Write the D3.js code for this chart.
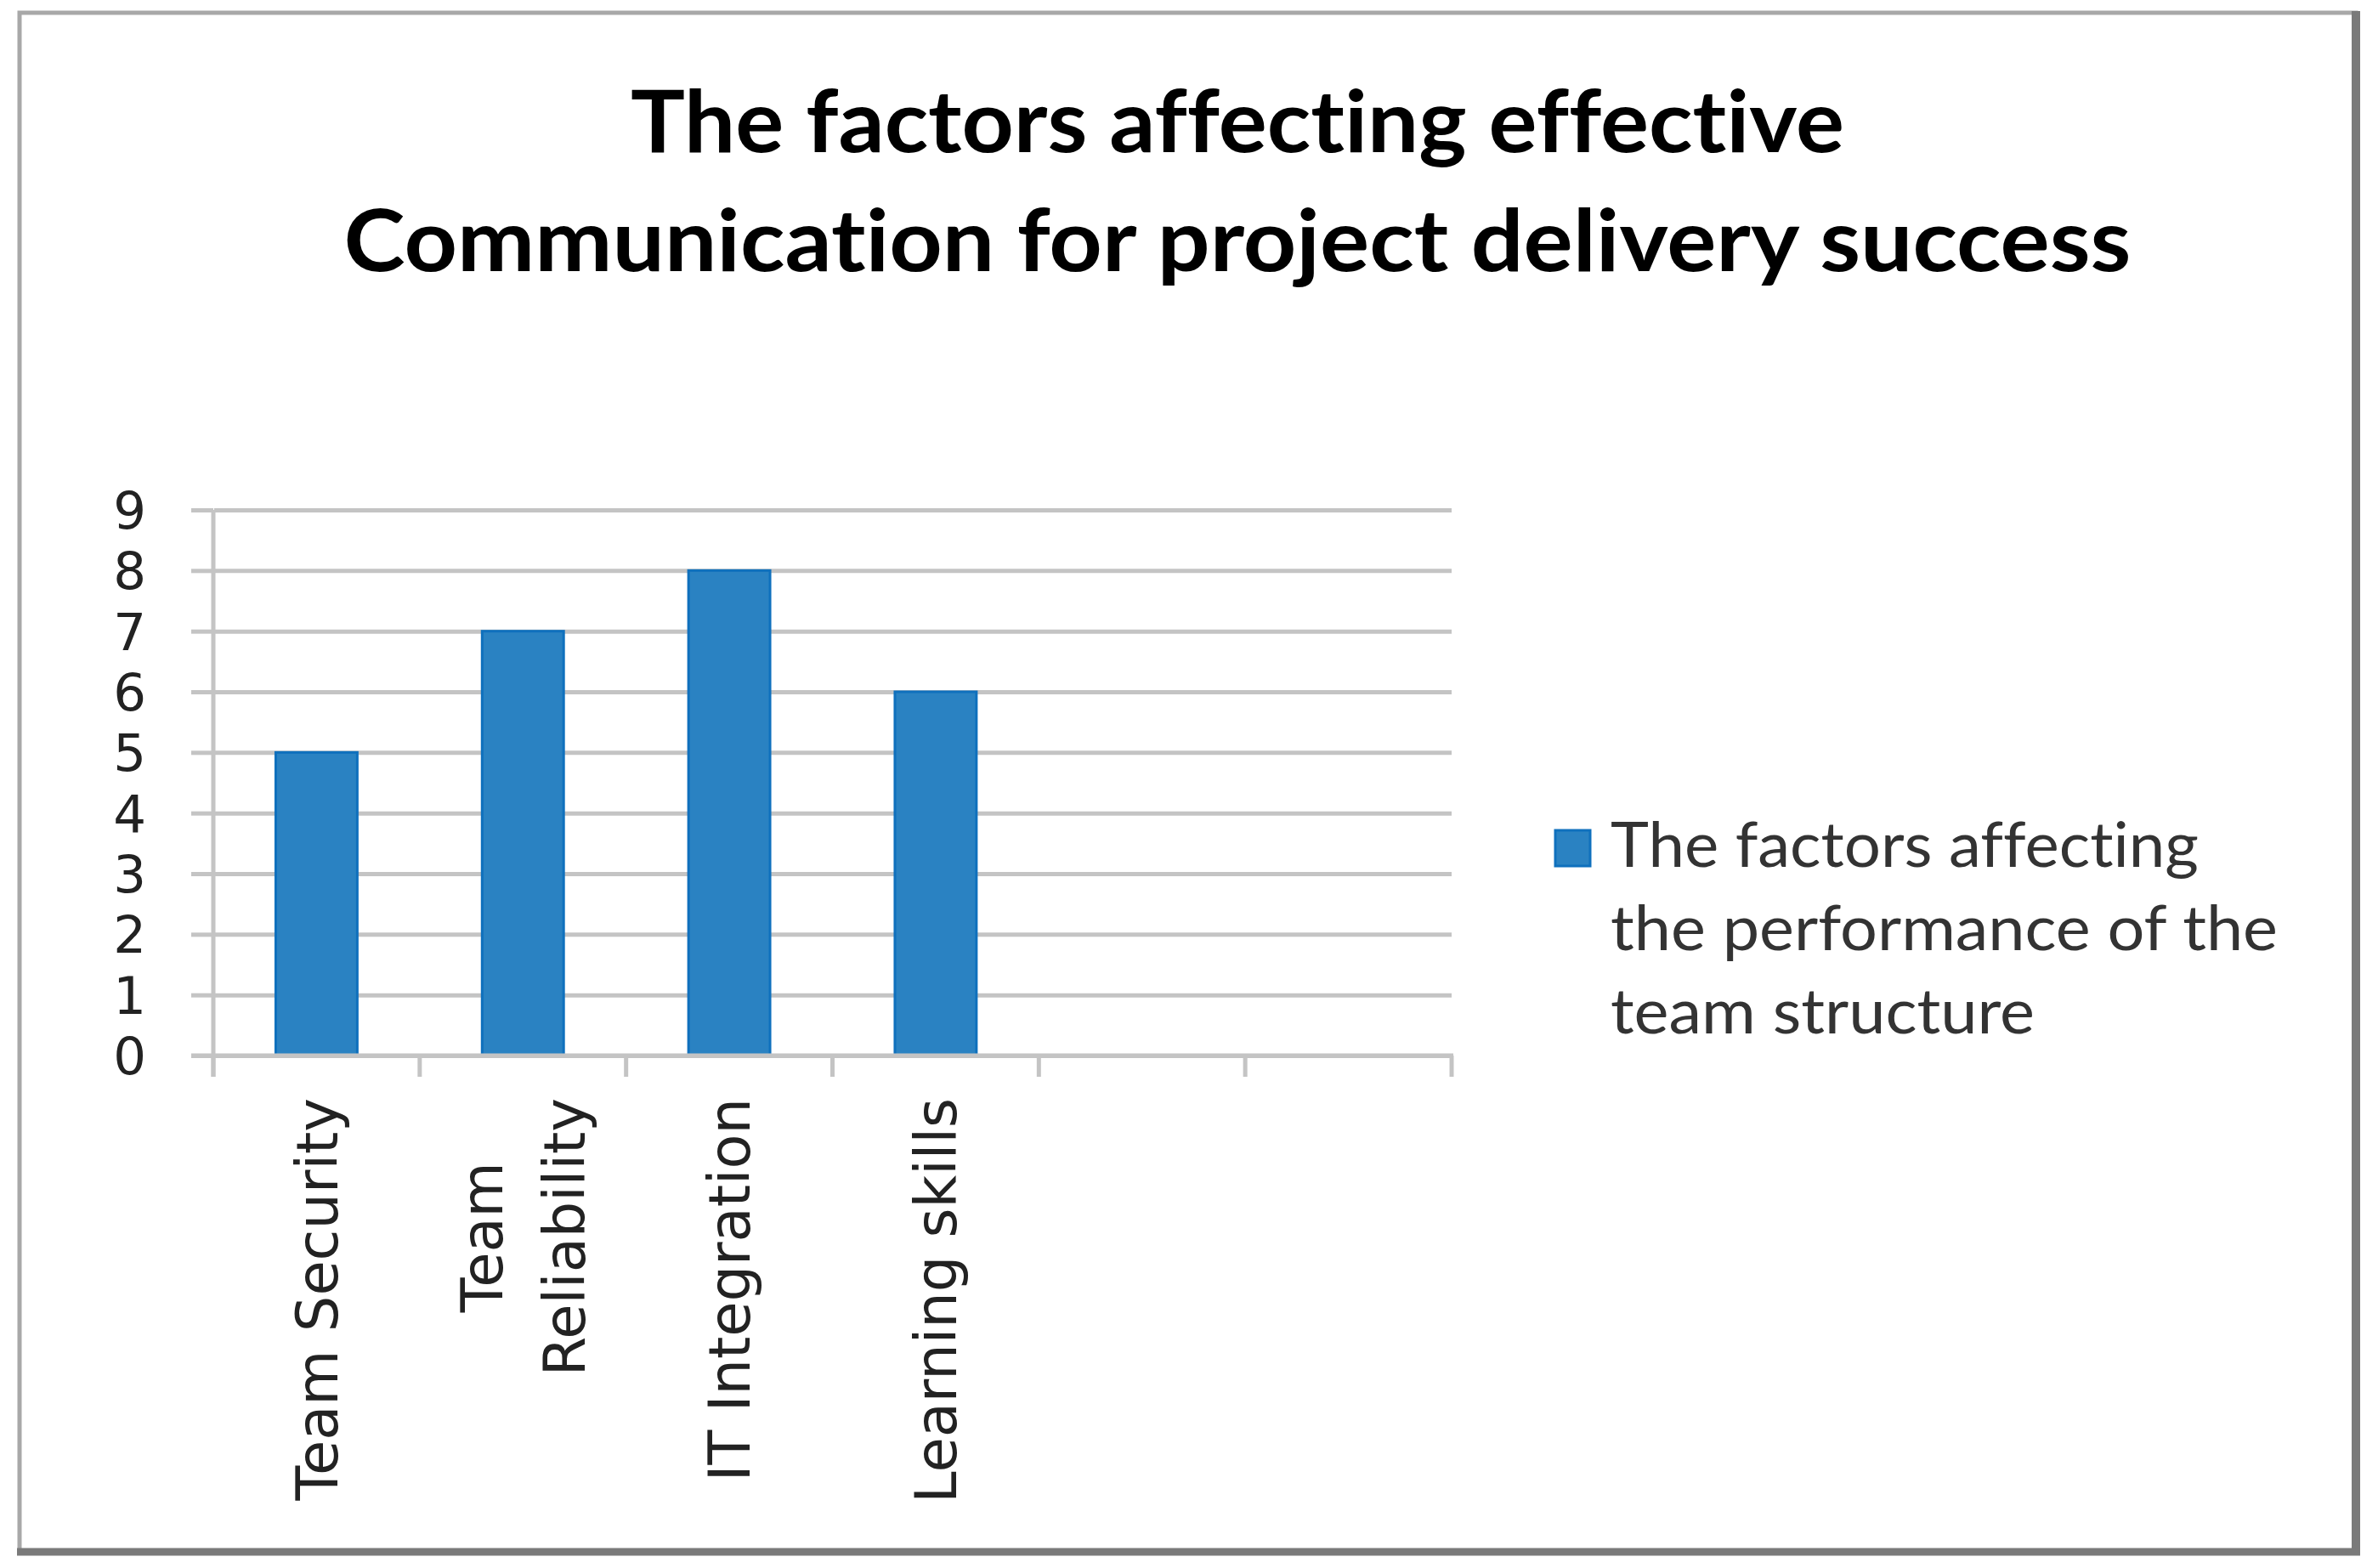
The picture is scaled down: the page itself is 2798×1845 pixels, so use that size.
<!DOCTYPE html>
<html>
<head>
<meta charset="utf-8">
<script src="https://cdn.jsdelivr.net/npm/d3@7"></script>
<style>
  body { margin: 0; background: #fff; }
  text { font-variant-ligatures: none; font-feature-settings: "liga" 0, "clig" 0; }
  .grid line { stroke: #c4c4c4; stroke-width: 5; }
  .grid path { display: none; }
</style>
</head>
<body>
<div id="chart"></div>
<script>
// data
const titleLines = ["The factors affecting effective", "Communication for project delivery success"];
const categories = [["Team Security"], ["Team", "Reliability"], ["IT Integration"], ["Learning skills"]];
const values = [5, 7, 8, 6];
const slotCount = 6; // two empty category slots on the right
const yTicks = [0, 1, 2, 3, 4, 5, 6, 7, 8, 9];
const legendLines = ["The factors affecting", "the performance of the", "team structure"];

const width = 2798;
const height = 1845;
const plot = { left: 251, right: 1708, top: 600, bottom: 1242 };

const svg = d3.select("#chart")
  .append("svg")
  .attr("width", width)
  .attr("height", height);

// frame with light top/left and dark bottom/right edges
svg.append("rect")
  .attr("x", 23).attr("y", 15)
  .attr("width", 2749).attr("height", 1811)
  .attr("fill", "#fff")
  .attr("stroke", "#a8a8a8")
  .attr("stroke-width", 5);
svg.append("line")
  .attr("x1", 2772).attr("x2", 2772).attr("y1", 13).attr("y2", 1830)
  .attr("stroke", "#7a7a7a").attr("stroke-width", 10);
svg.append("line")
  .attr("x1", 20).attr("x2", 2777).attr("y1", 1826).attr("y2", 1826)
  .attr("stroke", "#7a7a7a").attr("stroke-width", 9);

// title
const titleWidths = [1428, 2103];
svg.append("g")
  .selectAll("text")
  .data(titleLines)
  .join("text")
  .attr("x", 1456)
  .attr("y", (d, i) => 179 + i * 140)
  .attr("text-anchor", "middle")
  .attr("font-family", "Lato, 'Open Sans', sans-serif")
  .attr("font-weight", "bold")
  .attr("font-size", 102)
  .attr("fill", "#000")
  .attr("textLength", (d, i) => titleWidths[i])
  .attr("lengthAdjust", "spacingAndGlyphs")
  .text(d => d);

const xScale = d3.scaleBand()
  .domain(d3.range(slotCount))
  .range([plot.left, plot.right])
  .paddingInner(0.605)
  .paddingOuter(0.3025);

const yScale = d3.scaleLinear()
  .domain([0, 9])
  .range([plot.bottom, plot.top]);

// horizontal gridlines (also serve as the outward y ticks)
svg.append("g")
  .attr("class", "grid")
  .attr("transform", `translate(${plot.left}, 0)`)
  .call(d3.axisLeft(yScale).tickValues(yTicks).tickFormat("")
    .tickSizeInner(-(plot.right - plot.left)).tickSizeOuter(0))
  .selectAll("line")
  .attr("x1", 1)
  .attr("x2", plot.right - plot.left)
  .clone()
  .attr("x1", -26)
  .attr("x2", 0);

// y axis line
svg.append("line")
  .attr("x1", plot.left).attr("x2", plot.left)
  .attr("y1", plot.top).attr("y2", plot.bottom + 25)
  .attr("stroke", "#c4c4c4").attr("stroke-width", 5);

// category boundary ticks
const step = xScale.step();
svg.append("g")
  .selectAll("line")
  .data(d3.range(slotCount + 1))
  .join("line")
  .attr("x1", i => plot.left + i * step)
  .attr("x2", i => plot.left + i * step)
  .attr("y1", plot.bottom)
  .attr("y2", plot.bottom + 25)
  .attr("stroke", "#c4c4c4").attr("stroke-width", 5);

// y tick labels
svg.append("g")
  .selectAll("text")
  .data(yTicks)
  .join("text")
  .attr("x", 172)
  .attr("y", d => yScale(d))
  .attr("dy", "0.36em")
  .attr("text-anchor", "end")
  .attr("font-family", "'DejaVu Sans', Verdana, sans-serif")
  .attr("font-size", 61)
  .attr("fill", "#222")
  .text(d => d);

// bars
svg.append("g")
  .selectAll("rect")
  .data(values)
  .join("rect")
  .attr("x", (d, i) => xScale(i))
  .attr("y", d => yScale(d))
  .attr("width", xScale.bandwidth())
  .attr("height", d => yScale(0) - yScale(d))
  .attr("fill", "#2a82c2")
  .attr("stroke", "#0f70bd")
  .attr("stroke-width", 3);

// x axis line on top of bars
svg.append("line")
  .attr("x1", 225).attr("x2", plot.right + 2)
  .attr("y1", plot.bottom).attr("y2", plot.bottom)
  .attr("stroke", "#c4c4c4").attr("stroke-width", 5);

// rotated category labels, lines centred against the longest one
const lineGap = 97;
const labelTop = 1292;
const labels = svg.append("g")
  .selectAll("g")
  .data(categories)
  .join("g")
  .attr("transform", (d, i) => {
    const cx = xScale(i) + xScale.bandwidth() / 2;
    return `translate(${cx}, ${labelTop}) rotate(-90)`;
  });

labels.each(function(lines) {
  const g = d3.select(this);
  const texts = g.selectAll("text")
    .data(lines)
    .join("text")
    .attr("y", (d, j) => (j - (lines.length - 1) / 2) * lineGap)
    .attr("dy", "0.36em")
    .attr("font-family", "'DejaVu Sans', Verdana, sans-serif")
    .attr("font-size", 67)
    .attr("fill", "#222")
    .text(d => d);
  const widths = texts.nodes().map(n => n.getComputedTextLength());
  const maxW = d3.max(widths);
  texts
    .attr("text-anchor", "middle")
    .attr("x", -maxW / 2);
});

// legend
const legend = svg.append("g");
legend.append("rect")
  .attr("x", 1830).attr("y", 977)
  .attr("width", 41).attr("height", 42)
  .attr("fill", "#2a82c2")
  .attr("stroke", "#0f70bd")
  .attr("stroke-width", 3);
const legendWidths = [692, 785, 499];
legend.selectAll("text")
  .data(legendLines)
  .join("text")
  .attr("x", 1895)
  .attr("y", (d, i) => 1020 + i * 98)
  .attr("font-family", "Lato, 'Open Sans', sans-serif")
  .attr("font-size", 74)
  .attr("fill", "#333")
  .attr("textLength", (d, i) => legendWidths[i])
  .attr("lengthAdjust", "spacingAndGlyphs")
  .text(d => d);
</script>
</body>
</html>
